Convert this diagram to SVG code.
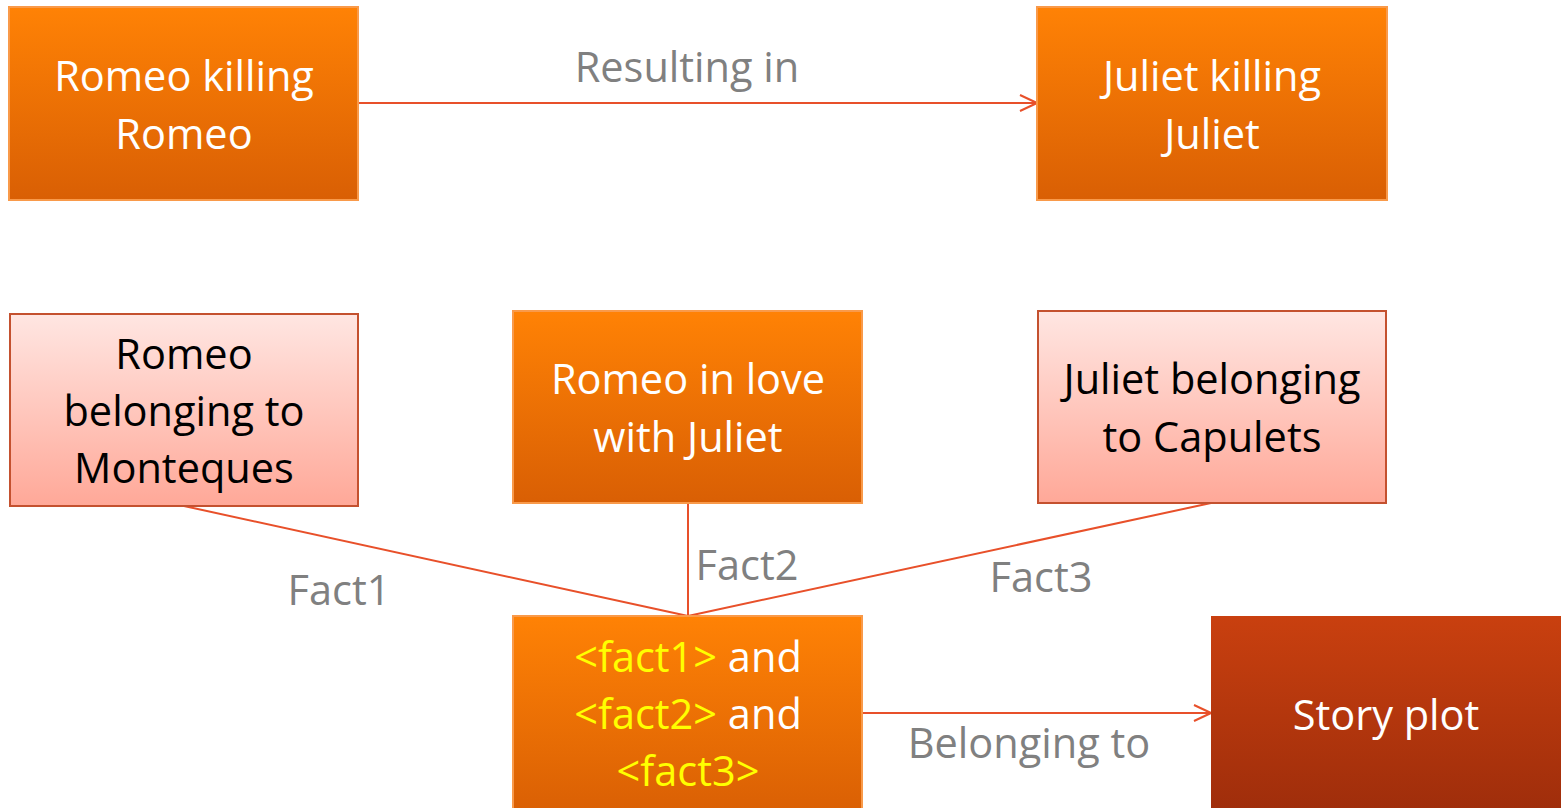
<svg xmlns="http://www.w3.org/2000/svg" width="1561" height="808" viewBox="0 0 1561 808">
<defs>
<linearGradient id="gOrange" x1="0" y1="0" x2="0" y2="1">
<stop offset="0" stop-color="#FF8205"/>
<stop offset="1" stop-color="#D95F04"/>
</linearGradient>
<linearGradient id="gPink" x1="0" y1="0" x2="0" y2="1">
<stop offset="0" stop-color="#FFE6E2"/>
<stop offset="1" stop-color="#FFA898"/>
</linearGradient>
<linearGradient id="gRed" x1="0" y1="0" x2="0" y2="1">
<stop offset="0" stop-color="#C9400F"/>
<stop offset="1" stop-color="#9E2D0B"/>
</linearGradient>
<marker id="arr" viewBox="0 0 20 20" refX="19" refY="10" markerWidth="20" markerHeight="20" markerUnits="userSpaceOnUse" orient="auto">
<path d="M2,2 L19,10 L2,18" fill="none" stroke="#E8502A" stroke-width="2"/>
</marker>
</defs>
<style>
.orange{fill:url(#gOrange);stroke:#F99A4A;stroke-width:2}
.pink{fill:url(#gPink);stroke:#C4512F;stroke-width:2}
.red{fill:url(#gRed);stroke:none}
.t{font-family:"Open Sans","Liberation Sans",sans-serif;font-size:41.5px;text-anchor:middle}
.w{fill:#FFFFFF}
.k{fill:#000000}
.y{fill:#FFFF00}
.lbl{font-family:"Open Sans","Liberation Sans",sans-serif;font-size:41.5px;fill:#808080}
.c{stroke:#E8502A;stroke-width:2;fill:none}
</style>
<rect width="1561" height="808" fill="#FFFFFF"/>
<g id="connectors">
<line class="c" x1="358" y1="103" x2="1037" y2="103" marker-end="url(#arr)"/>
<line class="c" x1="184" y1="506" x2="688" y2="616"/>
<line class="c" x1="688" y1="503" x2="688" y2="616"/>
<line class="c" x1="1211" y1="503" x2="688" y2="616"/>
<line class="c" x1="862" y1="713" x2="1211" y2="713" marker-end="url(#arr)"/>
<text class="lbl" x="687" y="82" text-anchor="middle">Resulting in</text>
<text class="lbl" x="339" y="605" text-anchor="middle">Fact1</text>
<text class="lbl" x="747" y="580" text-anchor="middle">Fact2</text>
<text class="lbl" x="1041" y="592" text-anchor="middle">Fact3</text>
<text class="lbl" x="1029" y="758" text-anchor="middle">Belonging to</text>
</g>
<g id="romeo-killing">
<rect class="orange" x="9" y="7" width="349" height="193"/>
<text class="t w" x="184" y="91">Romeo killing</text>
<text class="t w" x="184" y="149">Romeo</text>
</g>
<g id="juliet-killing">
<rect class="orange" x="1037" y="7" width="350" height="193"/>
<text class="t w" x="1212" y="91">Juliet killing</text>
<text class="t w" x="1212" y="149">Juliet</text>
</g>
<g id="romeo-belonging">
<rect class="pink" x="10" y="314" width="348" height="192"/>
<text class="t k" x="184" y="369">Romeo</text>
<text class="t k" x="184" y="426">belonging to</text>
<text class="t k" x="184" y="483">Monteques</text>
</g>
<g id="romeo-love">
<rect class="orange" x="513" y="311" width="349" height="192"/>
<text class="t w" x="688" y="394">Romeo in love</text>
<text class="t w" x="688" y="452">with Juliet</text>
</g>
<g id="juliet-belonging">
<rect class="pink" x="1038" y="311" width="348" height="192"/>
<text class="t k" x="1212" y="394">Juliet belonging</text>
<text class="t k" x="1212" y="452">to Capulets</text>
</g>
<g id="facts">
<rect class="orange" x="513" y="616" width="349" height="200"/>
<text class="t w" x="688" y="672"><tspan class="y">&lt;fact1&gt;</tspan> and</text>
<text class="t w" x="688" y="729"><tspan class="y">&lt;fact2&gt;</tspan> and</text>
<text class="t y" x="688" y="786">&lt;fact3&gt;</text>
</g>
<g id="story-plot">
<rect class="red" x="1211" y="616" width="350" height="200"/>
<text class="t w" x="1386" y="730">Story plot</text>
</g>
</svg>
